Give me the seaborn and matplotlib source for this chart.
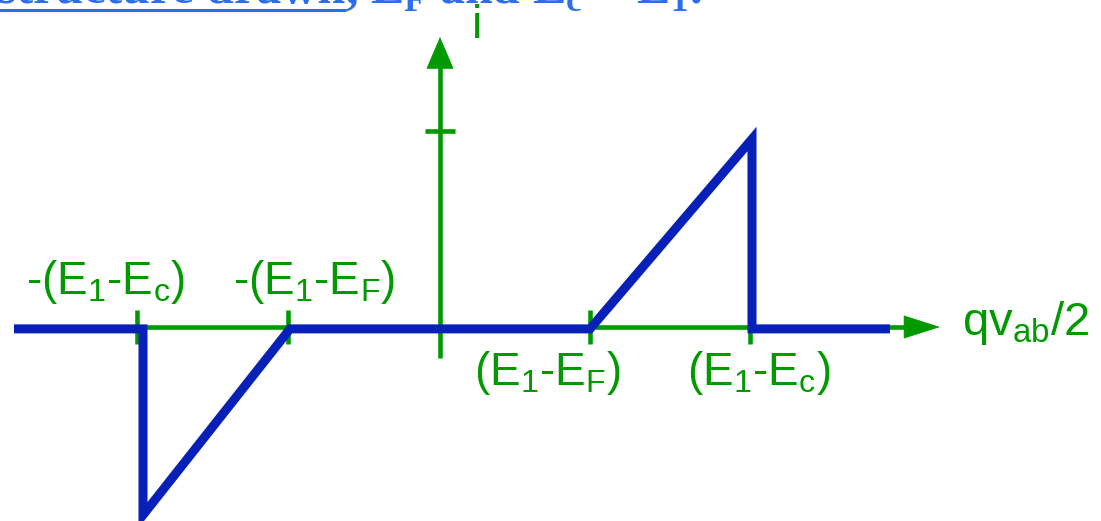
import matplotlib
matplotlib.use("Agg")
import matplotlib.pyplot as plt
import seaborn as sns
import pandas as pd

# Tick positions on the qv_ab/2 axis (units of E1-EF)
tick_x = [-2.02, -1.01, 1.0, 2.07]
tick_labels = ["-(E$_\\mathregular{1}$-E$_\\mathregular{c}$)",
               "-(E$_\\mathregular{1}$-E$_\\mathregular{F}$)",
               "(E$_\\mathregular{1}$-E$_\\mathregular{F}$)",
               "(E$_\\mathregular{1}$-E$_\\mathregular{c}$)"]
# Tick on the current axis
tick_i = 1.04

# Current i versus qv_ab/2
curve_x = [-2.84, -1.98, -1.98, -1.0, 1.0, 2.08, 2.08, 3.0]
curve_i = [-0.01, -0.01, -1.0, -0.01, -0.01, 1.0, -0.01, -0.01]

GREEN = "#009a00"
BLUE = "#0721b8"
TITLE_BLUE = "#2d6ef0"

sns.set_theme(style="white")
plt.rcParams["font.family"] = ["Liberation Sans", "DejaVu Sans"]
plt.rcParams["mathtext.fontset"] = "custom"
plt.rcParams["mathtext.rm"] = "Liberation Sans"
plt.rcParams["mathtext.bf"] = "Liberation Serif:bold"

fig = plt.figure(figsize=(11.01, 5.21), dpi=100)
ax = fig.add_axes([0, 0, 1, 1])
ax.set_axis_off()
ax.set_xlim(-2.9333, 4.4067)
ax.set_ylim(-1.0319, 1.7394)

# Axes with arrowheads
x_start, x_base, x_tip = -2.69, 3.1, 3.333
y_start, y_base, y_tip = -0.165, 1.378, 1.543
ax.plot([x_start, x_base], [0, 0], color=GREEN, lw=3.3, solid_capstyle="butt", zorder=1)
ax.plot([0, 0], [y_start, y_base], color=GREEN, lw=3.3, solid_capstyle="butt", zorder=1)
ax.annotate("", xy=(x_tip, 0), xytext=(x_base, 0),
            arrowprops=dict(arrowstyle="-|>,head_length=25,head_width=8",
                            mutation_scale=1, fc=GREEN, ec=GREEN, lw=0.5,
                            shrinkA=0, shrinkB=0), zorder=1)
ax.annotate("", xy=(0, y_tip), xytext=(0, y_base),
            arrowprops=dict(arrowstyle="-|>,head_length=22,head_width=9.4",
                            mutation_scale=1, fc=GREEN, ec=GREEN, lw=0.5,
                            shrinkA=0, shrinkB=0), zorder=1)

# Tick marks
for tx in tick_x:
    ax.plot([tx, tx], [-0.09, 0.09], color=GREEN, lw=3.3, solid_capstyle="butt", zorder=1)
ax.plot([-0.1, 0.1], [tick_i, tick_i], color=GREEN, lw=3.3, solid_capstyle="butt", zorder=1)

# Current curve
df = pd.DataFrame({"v": curve_x, "i": curve_i})
sns.lineplot(data=df, x="v", y="i", sort=False, estimator=None, color=BLUE,
             lw=6.5, ax=ax, zorder=3)
for line in ax.lines[-1:]:
    line.set_solid_joinstyle("miter")
    line.set_solid_capstyle("butt")
ax.set_xlabel("")
ax.set_ylabel("")

# Tick labels
label_pos = [(-2.76, 0.1755), (-1.38, 0.1755), (0.23, -0.3085), (1.645, -0.3085)]
for (lx, ly), txt in zip(label_pos, tick_labels):
    ax.text(lx, ly, txt, color=GREEN, fontsize=33, ha="left", va="baseline", zorder=4)

ax.text(3.48, -0.043, "qv$_\\mathregular{ab}$/2", color=GREEN, fontsize=34,
        ha="left", va="baseline")
ax.text(0.247, 1.537, "i", color=GREEN, fontsize=34, ha="center", va="baseline")

# Heading line running off the top edge
fig.text(345 / 1101, 1 - 3 / 521, "structure drawn", color=TITLE_BLUE, fontsize=36,
         family="Liberation Serif", weight="bold", ha="right", va="baseline")
fig.text(345 / 1101, 1 - 3 / 521,
         ", E$_\\mathbf{F}$ and E$_\\mathbf{c}$ < E$_\\mathbf{1}$.", color=TITLE_BLUE,
         fontsize=36, family="Liberation Serif", weight="bold", ha="left", va="baseline")
fig.add_artist(plt.Line2D([0, 345 / 1101], [1 - 10 / 521, 1 - 10 / 521],
                          color=TITLE_BLUE, lw=2.2, transform=fig.transFigure))

fig.savefig("out.png", dpi=100)
